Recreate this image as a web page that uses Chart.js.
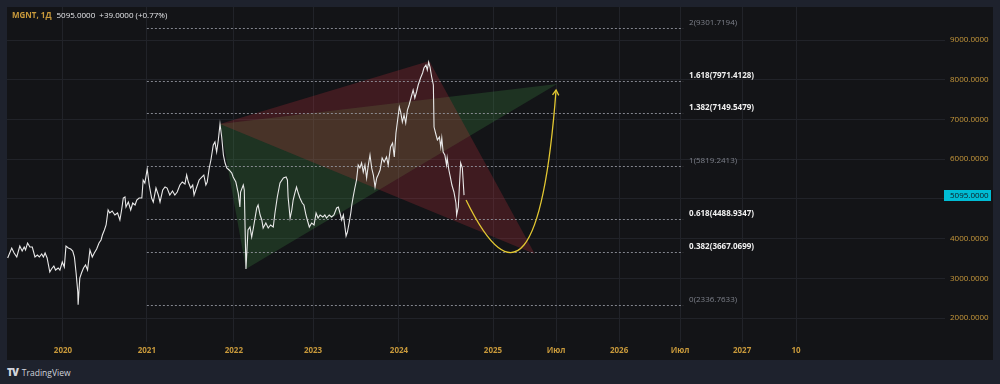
<!DOCTYPE html>
<html><head><meta charset="utf-8">
<script src="https://cdn.jsdelivr.net/npm/chart.js@4.4.1/dist/chart.umd.min.js"></script>
<style>
html,body{margin:0;padding:0;background:#1e222d;width:1000px;height:384px;overflow:hidden;font-family:"Open Sans","Liberation Sans",Arial,sans-serif;}
#panel{position:absolute;left:7px;top:7px;width:986px;height:353px;background:#131417;}
#c{position:absolute;left:0;top:0;}
#logo{position:absolute;left:7px;top:366px;color:#d1d4dc;font-size:8.5px;line-height:12px;white-space:nowrap;}
#logo b{font-size:10px;font-weight:800;letter-spacing:-1px;margin-right:4px;}
</style></head>
<body>
<div id="panel"><canvas id="c" width="986" height="353"></canvas></div>
<div id="logo"><b>TV</b>TradingView</div>
<script>
// ---- data (bar index: trading days from 2020-01-01; prices in RUB) ----
const symbol = 'MGNT, 1Д';
const lastPrice = 5095;
const change = 39;
const changePct = 0.77;

const bars = [-164,-152,-145,-137,-128,-121,-115,-111,-105,-98,-91,-83,-76,-70,-63,-58,-53,-47,-39,-34,-27,-22,-14,-9,-2,4,9,16,23,29,34,39,44,45,50,55,61,67,73,80,87,93,100,107,113,117,123,128,134,139,146,154,162,169,174,179,184,
187,194,201,207,214,219,226,234,238,243,250,256,263,268,276,283,288,296,303,309,317,325,332,339,347,354,362,367,372,379,385,389,397,404,412,418,424,428,434,439,446,451,456,461,466,471,476,481,486,493,501,505,513,520,525,527,535,538,543,
549,555,560,565,575,579,585,590,594,602,609,616,624,629,636,644,654,662,666,668,674,679,683,688,693,698,703,710,715,721,725,731,738,745,751,757,763,771,777,782,790,797,804,812,817,822,827,832,837,840,844,849,854,857,861,866,
871,876,881,886,891,896,901,906,911,916,921,926,931,935,941,947,953,960,965,972,978,983,988,993,998,1002,1007,1012,1017,1022,1027,1035,1039,1044,1049,1054,1061,1067,1071,1077,1081,1085,1089,1094,1099,1101,1107,1111,1117,1121,1124,1128,1133,1138,1140,1145,1150,1154,1160,1166,1168,1173,1176,1180,1185,1190];

const close = [3511,3762,3636,3536,3813,3687,3787,3712,3888,3787,3787,3536,3586,3536,3611,3536,3636,3511,3158,3234,3309,3208,3259,3208,3410,3284,3813,3762,3737,3687,3536,3133,2655,2337,3007,3133,3259,3334,3208,3712,3536,3636,3737,3888,3964,4090,4216,4342,4719,4644,4694,4594,4644,4468,4719,5022,5047,
4795,4921,4719,4896,4845,4971,5022,5022,5475,5399,5752,5349,5022,4921,5273,5097,4921,5223,5299,5273,5097,5198,5097,5173,5349,5424,5374,5601,5424,5273,5349,5097,5299,5475,5550,5601,5349,5424,5777,5978,6356,6432,6180,6482,6885,6558,6104,5903,5777,5727,5651,5550,5424,5147,4795,5173,5349,5223,3234,
4216,4291,4039,4266,4770,4845,4594,4468,4266,4392,4266,4342,4291,4644,5047,5399,5525,5550,5475,5047,4518,4719,4971,5147,5299,5147,5022,4896,4845,4594,4468,4291,4392,4342,4644,4518,4594,4543,4594,4518,4594,4543,4594,4770,4795,4644,4468,4594,4266,4065,4165,4392,4644,4845,5047,5273,
5475,5852,5777,5903,5676,5852,5525,5852,6104,5777,5601,5299,5525,5601,5727,6029,5928,6054,5852,6306,6406,6054,6658,6986,7313,7187,6935,7112,6910,7237,7363,7615,7741,7540,7691,7867,8043,8169,8295,8370,8245,8446,8320,8068,7867,6809,6608,6482,6558,6306,6532,6180,6104,5852,6029,5727,5525,5349,5173,4896,4594,4795,5273,5903,5777,5095];

const tickBars = [0,249,507,742,997,1276,1463,1650,1831,2015,2175];
const tickLabels = ['2020','2021','2022','2023','2024','2025','Июл','2026','Июл','2027','10'];
const yTicks = [2000,3000,4000,5000,6000,7000,8000,9000];

const fibRatios = [2,1.618,1.382,1,0.618,0.382,0];
const fibPrices = [9301.7194,7971.4128,7149.5479,5819.2413,4488.9347,3667.0699,2336.7633];
const fibFromBar = 249, fibToBar = 1840;

const greenBars = [466,543,1466];
const greenPrices = [6885,3234,7892];
const redBars = [466,1087,1400];
const redPrices = [6885,8470,3612];

// quadratic curve: start, control, end
const curveBars = [1196,1406,1463];
const curvePrices = [4971,1320,7741];

// ---- drawing ----
const FONT = '"Open Sans", "Liberation Sans", Arial, sans-serif';
Chart.defaults.font.family = FONT;
const AXIS_COLOR = '#c8993b';

const overlay = {
  id: 'overlay',
  beforeDatasetsDraw(chart) {
    const {ctx, chartArea: a, scales: {x, y}} = chart;
    ctx.save();
    ctx.beginPath(); ctx.rect(a.left, a.top, a.right - a.left, a.bottom - a.top); ctx.clip();
    const poly = (bs, ps, col) => {
      ctx.beginPath();
      bs.forEach((b, i) => {
        const px = x.getPixelForValue(b), py = y.getPixelForValue(ps[i]);
        i ? ctx.lineTo(px, py) : ctx.moveTo(px, py);
      });
      ctx.closePath(); ctx.fillStyle = col; ctx.fill();
    };
    poly(greenBars, greenPrices, 'rgba(76,175,80,0.2)');
    poly(redBars, redPrices, 'rgba(242,54,69,0.2)');

    const x1 = x.getPixelForValue(fibFromBar), x2 = x.getPixelForValue(fibToBar);
    ctx.setLineDash([2, 2]);
    ctx.lineWidth = 1;
    ctx.strokeStyle = 'rgba(150,153,162,0.85)';
    fibPrices.forEach((p, i) => {
      const py = Math.round(y.getPixelForValue(p)) + 0.5;
      ctx.beginPath(); ctx.moveTo(x1, py); ctx.lineTo(x2, py); ctx.stroke();
    });
    ctx.setLineDash([]);
    ctx.textBaseline = 'alphabetic';
    ctx.textAlign = 'left';
    fibPrices.forEach((p, i) => {
      const r = fibRatios[i];
      const major = r % 1 !== 0;
      ctx.font = (major ? 'bold ' : '') + '8px ' + FONT;
      ctx.fillStyle = major ? '#f0f0f0' : '#7d808a';
      const py = Math.round(y.getPixelForValue(p));
      ctx.fillText(String(r) + '(' + p.toFixed(4) + ')', x2 + 6, py - 3.5);
    });
    ctx.restore();
  },
  afterDatasetsDraw(chart) {
    const {ctx, chartArea: a, scales: {x, y}} = chart;
    ctx.save();
    // yellow projection curve
    const P = curveBars.map((b, i) => [x.getPixelForValue(b), y.getPixelForValue(curvePrices[i])]);
    ctx.strokeStyle = '#e3c832';
    ctx.lineWidth = 1.3;
    ctx.beginPath();
    ctx.moveTo(P[0][0], P[0][1]);
    ctx.quadraticCurveTo(P[1][0], P[1][1], P[2][0], P[2][1]);
    ctx.stroke();
    const ang = Math.atan2(P[2][1] - P[1][1], P[2][0] - P[1][0]);
    const L = 6, w = 0.55;
    ctx.beginPath();
    ctx.moveTo(P[2][0] - L * Math.cos(ang - w), P[2][1] - L * Math.sin(ang - w));
    ctx.lineTo(P[2][0], P[2][1]);
    ctx.lineTo(P[2][0] - L * Math.cos(ang + w), P[2][1] - L * Math.sin(ang + w));
    ctx.stroke();

    // last price label
    const py = y.getPixelForValue(lastPrice);
    ctx.fillStyle = '#00bcd4';
    ctx.fillRect(a.right - 1, Math.round(py) - 5, 47, 11);
    ctx.fillStyle = '#0f1a20';
    ctx.font = '8px ' + FONT;
    ctx.textBaseline = 'middle';
    ctx.textAlign = 'left';
    ctx.fillText(lastPrice.toFixed(4), a.right + 5, Math.round(py) + 0.5);

    // header
    ctx.textAlign = 'left';
    ctx.font = 'bold 8px ' + FONT;
    ctx.fillStyle = AXIS_COLOR;
    ctx.fillText(symbol, 5, 9);
    let off = 5 + ctx.measureText(symbol).width + 5;
    ctx.font = '8px ' + FONT;
    ctx.fillStyle = '#e6e7ea';
    const rest = lastPrice.toFixed(4) + '  +' + change.toFixed(4) + ' (+' + changePct.toFixed(2) + '%)';
    ctx.fillText(rest, off, 9);
    ctx.restore();
  }
};

new Chart(document.getElementById('c'), {
  type: 'line',
  data: {
    datasets: [{
      data: bars.map((b, i) => ({x: b, y: close[i]})),
      borderColor: '#e9e9e9',
      borderWidth: 1.1,
      pointRadius: 0,
      tension: 0,
      fill: false
    }]
  },
  options: {
    responsive: false,
    animation: false,
    devicePixelRatio: 1,
    layout: {padding: 0},
    plugins: {legend: {display: false}, tooltip: {enabled: false}},
    scales: {
      x: {
        type: 'linear', min: -166, max: 2617,
        afterBuildTicks: s => { s.ticks = tickBars.map(v => ({value: v})); },
        afterFit: s => { s.height = 18; s.paddingLeft = 0; s.paddingRight = 0; },
        grid: {color: '#212329', drawTicks: false},
        border: {display: false},
        ticks: {
          autoSkip: false, maxRotation: 0, minRotation: 0, padding: 4,
          color: AXIS_COLOR, font: {size: 8, weight: 'bold'},
          callback: v => tickLabels[tickBars.indexOf(v)]
        }
      },
      y: {
        type: 'linear', position: 'right', min: 1396, max: 9831,
        afterBuildTicks: s => { s.ticks = yTicks.map(v => ({value: v})); },
        afterFit: s => { s.width = 48; s.paddingTop = 0; s.paddingBottom = 0; },
        grid: {color: '#212329', drawTicks: false},
        border: {display: false},
        ticks: {
          padding: 5, color: AXIS_COLOR, font: {size: 8},
          callback: v => Number(v).toFixed(4)
        }
      }
    }
  },
  plugins: [overlay]
});
</script>
</body></html>
